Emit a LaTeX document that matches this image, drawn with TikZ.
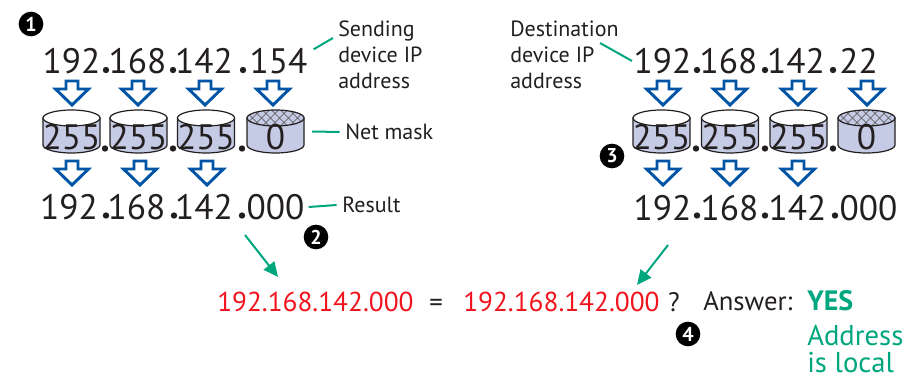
\documentclass[tikz,border=0pt]{standalone}
\usepackage{fontspec}
\setmainfont{PT Sans}
\usetikzlibrary{arrows.meta}

\definecolor{inkgray}{RGB}{35,31,32}
\definecolor{netblue}{RGB}{0,84,166}
\definecolor{netgreen}{RGB}{0,166,126}
\definecolor{netred}{RGB}{240,20,30}
\definecolor{diskblue}{RGB}{197,203,228}

\tikzset{
  octet/.style={inner sep=0pt, text=inkgray, font=\fontsize{26.5}{30}\selectfont},
  lbl/.style={inner sep=0pt, text=inkgray, align=left, font=\fontsize{16.5}{19.5}\selectfont},
  sum/.style={inner sep=0pt, anchor=base west, text=inkgray, font=\fontsize{20}{24}\selectfont},
  callout/.style={draw=netgreen, line width=1.5pt},
  pointer/.style={draw=netgreen, line width=1.5pt, -{Triangle[length=11pt,width=10pt]}},
  stepnum/.style={circle, fill=black, text=white, inner sep=0pt, minimum size=18.5pt, font=\bfseries\fontsize{15}{15}\selectfont},
  blockarrow/.style={draw=netblue, fill=white, line width=2.2pt},
  diskline/.style={draw=inkgray, line width=0.9pt},
  pics/maskarrow/.style={code={
    \draw[blockarrow] (-6,0) -- (6,0) -- (6,8) -- (16.5,8) -- (0,24) -- (-16.5,8) -- (-6,8) -- cycle;
  }},
  pics/disk/.style={code={
    \filldraw[diskline, fill=diskblue] (-28.5,-13.5) -- (-28.5,13.5) arc (180:0:28.5 and 8) -- (28.5,-13.5) -- cycle;
    \filldraw[diskline, fill=white] (0,-13.5) ellipse (28.5 and 8);
    \coordinate (-east) at (28.5,0);
  }},
  pics/hatchdisk/.style={code={
    \filldraw[diskline, fill=diskblue] (-28.5,-13.5) -- (-28.5,13.5) arc (180:0:28.5 and 8) -- (28.5,-13.5) -- cycle;
    \fill[diskblue] (0,-13.5) ellipse (28.5 and 8);
    \begin{scope}
      \clip (0,-13.5) ellipse (28.5 and 8);
      \foreach \k in {-50,-41,...,50} {
        \draw[gray!60!black, line width=0.5pt] (\k-12,-25.5) -- (\k+12,-1.5);
        \draw[gray!60!black, line width=0.5pt] (\k+12,-25.5) -- (\k-12,-1.5);
      }
    \end{scope}
    \draw[diskline] (0,-13.5) ellipse (28.5 and 8);
    \coordinate (-east) at (28.5,0);
  }},
}

\begin{document}
\begin{tikzpicture}[x=0.75pt,y=-0.75pt]
  \useasboundingbox (0,0) rectangle (906,378);

  % Sending device address and destination address
  \foreach \n/\x/\t in {1/71.5/192, 2/137.5/168, 3/204/142, 4/278.5/154}
    \node[octet] (s\n) at (\x,61) {\t};
  \foreach \n/\x/\t in {1/662.5/192, 2/728.5/168, 3/796/142, 4/858.5/22}
    \node[octet] (d\n) at (\x,61) {\t};
  \foreach \x in {106,173,243,697,765,833}
    \fill[inkgray] (\x,70) circle (3.2);

  % Block arrows into the net mask
  \foreach \x in {72,138,205,273,663,730,798,867}
    \pic at (\x,81) {maskarrow};

  % Net mask disks
  \foreach \n/\x in {1/71.5, 2/138.5, 3/206}
    \pic (lc\n) at (\x,131.5) {disk};
  \pic (lc4) at (275.5,131.5) {hatchdisk};
  \foreach \n/\x in {1/661.5, 2/730, 3/798.5}
    \pic (rc\n) at (\x,131.5) {disk};
  \pic (rc4) at (866.5,131.5) {hatchdisk};

  \foreach \n/\x/\t in {1/71.5/255, 2/138.5/255, 3/206/255, 4/275.5/0}
    \node[octet] (lm\n) at (\x,137.5) {\t};
  \foreach \n/\x/\t in {1/661.5/255, 2/730/255, 3/798.5/255, 4/866.5/0}
    \node[octet] (rm\n) at (\x,137.5) {\t};
  \foreach \x in {105,173,242,696,765,833}
    \fill[inkgray] (\x,148.5) circle (3.2);

  % Block arrows into the result
  \foreach \x in {72,140,207,663,730,798}
    \pic at (\x,161) {maskarrow};

  % Results
  \foreach \n/\x/\t in {1/69/192, 2/136.5/168, 3/204/142, 4/275.5/000}
    \node[octet] (r\n) at (\x,207) {\t};
  \foreach \n/\x/\t in {1/662.5/192, 2/729.5/168, 3/797.5/142, 4/868.5/000}
    \node[octet] (e\n) at (\x,208) {\t};
  \foreach \x in {106,174,242,697,765,835}
    \fill[inkgray] (\x,215.5) circle (3.2);

  % Labels and callout lines
  \node[lbl, anchor=north west] (sendlbl) at (338,21) {Sending\\device IP\\address};
  \node[lbl, anchor=north west] (destlbl) at (510,21) {Destination\\device IP\\address};
  \node[lbl, anchor=west] (masklbl) at (345,132) {Net mask};
  \node[lbl, anchor=west] (reslbl) at (342,205) {Result};

  \coordinate (sendend) at (333,38);
  \coordinate (destend) at (600,43);
  \draw[callout] ([xshift=4.5pt,yshift=-1pt]s4.north east) -- (sendend);
  \draw[callout] (destend) -- ([xshift=-1pt]d1.west);
  \draw[callout] ([xshift=6pt]lc4-east) -- ([xshift=-4pt]masklbl.west);
  \draw[callout] ([xshift=3pt]r4.east) -- ([xshift=-4pt]reslbl.west);

  % Step numbers
  \node[stepnum] (n1) at (31,24) {1};
  \node[stepnum] (n2) at (316,237) {2};
  \node[stepnum] (n3) at (612,156) {3};
  \node[stepnum] (n4) at (688,334) {4};

  % Comparison
  \node[sum, text=netred, font=\fontsize{20.5}{24}\selectfont] (lhs) at (217,311) {192.168.142.000};
  \node[sum, anchor=base] (eq) at (436,311) {=};
  \node[sum, text=netred, font=\fontsize{20.5}{24}\selectfont] (rhs) at (463,311) {192.168.142.000};
  \node[sum, anchor=base] (qmark) at (674,311) {?};
  \node[sum] (answer) at (703,310) {Answer:};
  \node[sum, text=netgreen, font=\bfseries\fontsize{21}{24}\selectfont] (yes) at (807,310) {YES};
  \node[sum, text=netgreen, font=\fontsize{21.5}{24}\selectfont] (addr) at (807,345) {Address};
  \node[sum, text=netgreen, font=\fontsize{21.5}{24}\selectfont] (islocal) at (807,372) {is local};

  \coordinate (ltail) at (245,235);
  \coordinate (lhead) at (278,277);
  \coordinate (rtail) at (668,245);
  \coordinate (rhead) at (637,285);
  \draw[pointer] (ltail) -- (lhead);
  \draw[pointer] (rtail) -- (rhead);
\end{tikzpicture}
\end{document}
